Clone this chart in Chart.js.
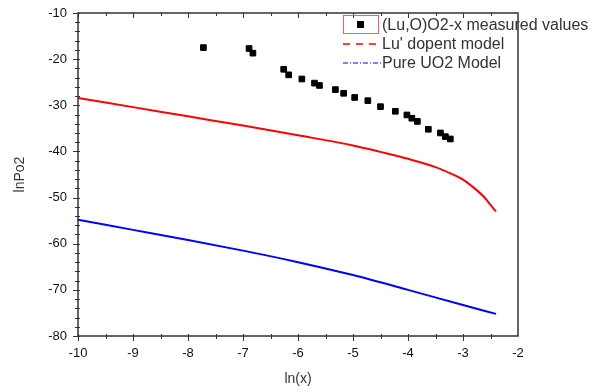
<!DOCTYPE html>
<html>
<head>
<meta charset="utf-8">
<script src="https://cdn.jsdelivr.net/npm/chart.js@4"></script>
<style>
  html, body { margin: 0; padding: 0; background: #fff; }
  #wrap { width: 592px; height: 392px; position: relative; }
</style>
</head>
<body>
<div id="wrap"><canvas id="plot" width="592" height="392"></canvas></div>
<script>
// measured values (ln(x), lnPo2)
var measuredX = [-7.72, -6.89, -6.82, -6.26, -6.17, -5.93, -5.70, -5.61, -5.32, -5.17, -4.97, -4.73, -4.50, -4.23, -4.02, -3.93, -3.83, -3.63, -3.41, -3.32, -3.23];
var measuredY = [-17.5, -17.7, -18.7, -22.2, -23.4, -24.3, -25.2, -25.7, -26.6, -27.4, -28.3, -29.0, -30.3, -31.3, -32.1, -32.8, -33.5, -35.2, -36.0, -36.8, -37.3];

// Lu' dopent model
var luX = [-10, -9, -8, -7, -6, -5, -4.5, -4, -3.5, -3.2, -3, -2.8, -2.6, -2.5, -2.4];
var luY = [-28.4, -30.4, -32.4, -34.4, -36.5, -38.7, -40.1, -41.6, -43.4, -44.9, -46.1, -47.9, -50.1, -51.6, -53.0];

// Pure UO2 model
var uoX = [-10, -9, -8, -7, -6, -5, -4, -3, -2.4];
var uoY = [-54.8, -57.0, -59.2, -61.5, -64.0, -66.8, -70.0, -73.3, -75.2];

var legendLabels = ["(Lu,O)O2-x measured values", "Lu' dopent model", "Pure UO2 Model"];

function pts(xs, ys) {
    var out = [];
    for (var i = 0; i < xs.length; i++) out.push({x: xs[i], y: ys[i]});
    return out;
}

var axisColor = '#333333';

// minor ticks, top ticks, frame and the legend
var framePlugin = {
    id: 'frame',
    afterDraw: function(chart) {
        var ctx = chart.ctx;
        var a = chart.chartArea;
        var xs = chart.scales.x, ys = chart.scales.y;
        ctx.save();
        ctx.strokeStyle = axisColor;
        ctx.lineWidth = 1.5;
        ctx.strokeRect(a.left, a.top, a.right - a.left, a.bottom - a.top);
        ctx.lineWidth = 1;
        ctx.beginPath();
        for (var v = -10; v <= -2.001; v += 0.5) {
            var px = Math.round(xs.getPixelForValue(v)) + 0.5;
            var major = Math.abs(v - Math.round(v)) < 0.01;
            ctx.moveTo(px, a.bottom - 2);
            ctx.lineTo(px, a.bottom + (major ? 5 : 3));
            ctx.moveTo(px, a.top);
            ctx.lineTo(px, a.top + (major ? 5 : 3));
        }
        for (var w = -80; w <= -10; w += 2) {
            var py = Math.round(ys.getPixelForValue(w)) + 0.5;
            var maj = w % 10 === 0;
            ctx.moveTo(a.left - (maj ? 5 : 3), py);
            ctx.lineTo(a.left + 2, py);
        }
        ctx.stroke();

        // legend
        var lx = 343, ly = 25, gap = 19;
        ctx.font = '16px Arial, "Liberation Sans", sans-serif';
        ctx.textBaseline = 'middle';
        ctx.strokeStyle = '#ff5a5a';
        ctx.lineWidth = 1;
        ctx.strokeRect(lx + 0.5, ly - 9.5, 35, 18);
        ctx.fillStyle = '#000';
        ctx.fillRect(lx + 14, ly - 4, 7, 7);

        ctx.strokeStyle = '#ff0000';
        ctx.lineWidth = 1.5;
        ctx.setLineDash([7, 6]);
        ctx.beginPath();
        ctx.moveTo(lx, ly + gap);
        ctx.lineTo(lx + 38, ly + gap);
        ctx.stroke();

        ctx.strokeStyle = '#0000ff';
        ctx.lineWidth = 1.2;
        ctx.setLineDash([5, 2, 1, 2]);
        ctx.beginPath();
        ctx.moveTo(lx, ly + 2 * gap);
        ctx.lineTo(lx + 38, ly + 2 * gap);
        ctx.stroke();
        ctx.setLineDash([]);

        ctx.fillStyle = '#333';
        for (var k = 0; k < legendLabels.length; k++) {
            ctx.fillText(legendLabels[k], lx + 39, ly + k * gap + 1);
        }
        ctx.restore();
    }
};

function noPad(s) {
    s.paddingTop = 0;
    s.paddingBottom = 0;
    s.paddingLeft = 0;
    s.paddingRight = 0;
}

new Chart(document.getElementById('plot'), {
    type: 'scatter',
    data: {
        datasets: [{
            label: legendLabels[0],
            data: pts(measuredX, measuredY),
            pointStyle: 'rect',
            pointRadius: 4,
            backgroundColor: '#000',
            borderColor: '#000',
            showLine: false
        }, {
            label: legendLabels[1],
            data: pts(luX, luY),
            showLine: true,
            borderColor: '#ff0000',
            borderWidth: 2,
            pointRadius: 0,
            cubicInterpolationMode: 'monotone'
        }, {
            label: legendLabels[2],
            data: pts(uoX, uoY),
            showLine: true,
            borderColor: '#0000ff',
            borderWidth: 2,
            pointRadius: 0,
            cubicInterpolationMode: 'monotone'
        }]
    },
    options: {
        responsive: false,
        animation: false,
        devicePixelRatio: 1,
        layout: { padding: { left: 8, top: 13, right: 74, bottom: 0 } },
        plugins: { legend: { display: false }, tooltip: { enabled: false } },
        scales: {
            x: {
                type: 'linear',
                min: -10, max: -2,
                ticks: { stepSize: 1, autoSkip: false, maxRotation: 0, minRotation: 0, color: '#111', font: { family: 'Arial', size: 13 }, padding: 10 },
                grid: { display: false, drawTicks: false },
                border: { display: false },
                title: { display: true, text: 'ln(x)', color: '#333', font: { family: 'Arial', size: 14 }, padding: { top: 6 } },
                afterFit: function(s) { s.height = 56; noPad(s); }
            },
            y: {
                min: -80, max: -10,
                ticks: { stepSize: 10, autoSkip: false, color: '#111', font: { family: 'Arial', size: 13 }, padding: 11 },
                grid: { display: false, drawTicks: false },
                border: { display: false },
                title: { display: true, text: 'lnPo2', color: '#333', font: { family: 'Arial', size: 14 }, padding: { bottom: 0 } },
                afterFit: function(s) { s.width = 70; noPad(s); }
            }
        }
    },
    plugins: [framePlugin]
});
</script>
</body>
</html>
